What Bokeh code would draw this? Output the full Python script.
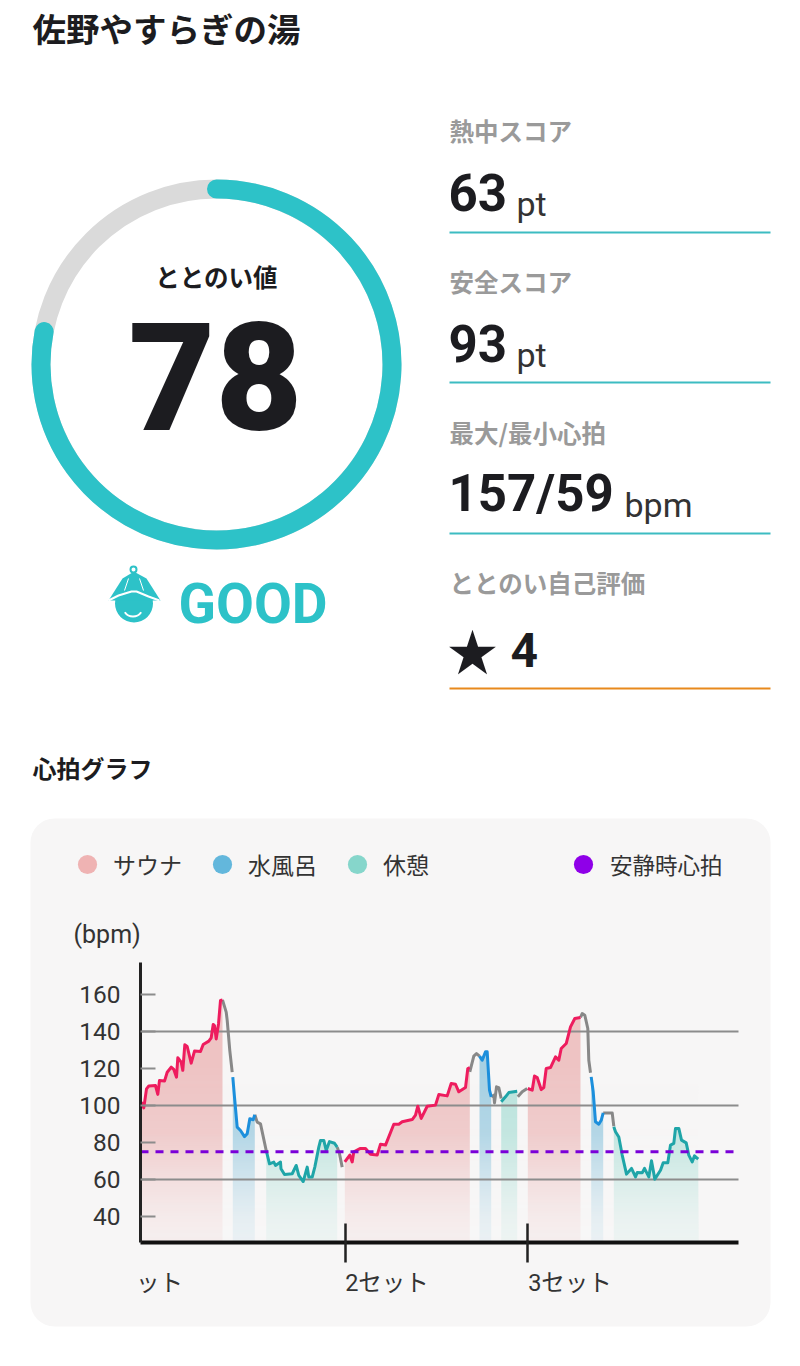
import math
import numpy as np
from bokeh.plotting import figure
from bokeh.layouts import column
from bokeh.models import (BoxAnnotation, Label, Range1d, FixedTicker, Legend, LegendItem)
from bokeh.core.properties import value
from bokeh.embed import file_html
from bokeh.resources import INLINE

# ---------- data ----------
title = "佐野やすらぎの湯"
score_label = "ととのい値"
score = 78
rating = "GOOD"
metric_labels = ["熱中スコア", "安全スコア", "最大/最小心拍", "ととのい自己評価"]
metric_values = ["63", "93", "157/59", "4"]
metric_units = ["pt", "pt", "bpm", ""]
chart_title = "心拍グラフ"
legend_labels = ["サウナ", "水風呂", "休憩"]
rest_label = "安静時心拍"
rest_bpm = 75
y_ticks = [40, 60, 80, 100, 120, 140, 160]
grid_ticks = [60, 100, 140]
set_ticks = [204.5, 387.3]
set_label_pos = [19, 246.5, 429.5]
set_labels = ["ット", "2セット", "3セット"]

sauna = [
    ([1, 3.3, 6, 8.3, 15, 17.3, 19, 24, 26.7, 30.7, 33.3, 36, 37.3, 40.7, 42.3, 44.3, 46.7, 50.7, 54, 60, 62.7, 68.3, 70.7, 72.7, 74, 75.7, 78, 80, 82],
     [101.8, 98.7, 109, 110.5, 110.8, 106, 113.5, 113.2, 118, 120.7, 119.5, 115.3, 125.8, 123.4, 119, 132.8, 131.9, 122.9, 129.4, 129.2, 133, 134.8, 136.6, 143.8, 143.2, 136, 144.1, 156.8, 157.1]),
    ([204.3, 209.3, 211.7, 213.3, 220, 225, 230, 236.7, 240, 245, 253.3, 258.3, 261.7, 271.7, 275, 277.3, 280.7, 286.7, 295, 298.3, 306.7, 310.7, 315, 318.3, 325, 327.3, 329.3],
     [69.5, 73.2, 69.5, 75, 76.8, 76.8, 73.7, 73.2, 79.1, 78.6, 89.9, 89.9, 91.2, 92.4, 94.8, 99.6, 93, 99.6, 100.2, 105.9, 105.2, 111.9, 111.5, 107.4, 109.7, 120, 120.5]),
    ([387.3, 391.7, 394, 396.7, 400.7, 403.3, 405.7, 410, 415, 418.3, 420.7, 425.7, 430, 434.3, 440],
     [109.2, 108.3, 115.9, 115.1, 108.6, 109.7, 120, 120.5, 126.3, 124.5, 130.8, 133.5, 142.5, 147, 147.6]),
]
cold = [
    ([92.3, 94, 96.7, 100, 104, 106.7, 109.3, 112.7, 114.3],
     [115.3, 104.5, 88.3, 86.5, 83.2, 84.7, 92.8, 92.3, 95]),
    ([339, 341.7, 345, 346.7, 349, 350.7],
     [126.7, 124.5, 129, 129, 108.3, 104.7]),
    ([450.7, 452.7, 455, 458.3, 460.7, 462.7],
     [115.5, 107.4, 91.2, 89.9, 92, 96]),
]
rest = [
    ([125.7, 129, 133.3, 135, 140, 140.5, 144, 151.7, 155.7, 158.3, 162.7, 166.7, 168.3, 171.7, 174.3, 178.3, 180, 183.3, 185.7, 189, 194, 196.7],
     [75.7, 68.5, 69.4, 67.6, 69.4, 65.8, 62.7, 63.1, 67.6, 62.2, 58.9, 66.7, 61.3, 61.3, 66.7, 77.5, 81.1, 81.1, 75.7, 80.5, 79.6, 77.5]),
    ([360.7, 365, 368.3, 376.7],
     [102, 104.7, 107, 107.7]),
    ([473.3, 475, 478.3, 481.7, 486, 491, 495, 496.7, 501.7, 504, 508.3, 511, 514.3, 520, 522.7, 527.3, 530, 533.3, 535, 538.3, 541, 545.7, 548.3, 551.7, 554, 557.7],
     [88.5, 85.8, 83, 73.2, 62.9, 66, 61.4, 63.8, 63.6, 66, 61.4, 70.1, 60.2, 65, 69, 69, 78.6, 79.5, 87.6, 87.6, 81.3, 79.8, 73.2, 69.5, 72.8, 71]),
]
other = [
    ([82, 85.7, 86.7, 89.3, 91.7], [157.1, 150.5, 146, 129.7, 118]),
    ([114.3, 116.7, 120, 125.7], [95, 91, 90.1, 75.7]),
    ([196.7, 199, 201.7], [77.5, 73.9, 66.7]),
    ([329.3, 333.3, 336, 339], [118.2, 126.7, 128.1, 126.7]),
    ([350.7, 353.3, 354, 356, 358.3, 360.7], [104.7, 105.6, 101.4, 110.1, 109.7, 103.8]),
    ([377.3, 381.7, 386.7], [104.7, 107.4, 109.2]),
    ([440, 441.7, 444.3, 447.3, 448.3, 450], [147.6, 149.7, 148.8, 141.6, 124.5, 117.7]),
    ([462.7, 471.7, 473.3], [96, 96, 88.8]),
]

# ---------- styles ----------
FONT = "Roboto, 'Noto Sans CJK JP'"
JP = "Noto Sans CJK JP"
INK = "#1c1c20"
TEAL = "#2dc2c8"
GREY_TXT = "#9a9a9a"
CARD = "#f7f6f6"

# ---------- upper part (page pixels) ----------
top = figure(width=792, height=788, x_range=Range1d(0, 792), y_range=Range1d(-788, 0),
             output_backend="svg", toolbar_location=None, min_border=0,
             x_axis_type=None, y_axis_type=None, outline_line_color=None)
top.grid.visible = False


def txt(x, y, s, size, color=INK, bold=False, align="left", font=FONT):
    # the svg text sits about 0.385 em under the requested baseline
    top.text([x], [-(y - 0.385 * size)], text=[s], text_font=value(font), text_font_size=f"{size}px",
             text_color=color, text_font_style="bold" if bold else "normal",
             text_align=align, text_baseline="alphabetic")


txt(32, 40, title, 33.5, bold=True, font=JP)

cx, cy, cr = 216, -364, 175.5
top.arc([cx], [cy], radius=cr, start_angle=0, end_angle=2 * math.pi, line_color="#dadada", line_width=19)
top.arc([cx], [cy], radius=cr, start_angle=math.pi / 2,
        end_angle=math.pi / 2 - 2 * math.pi * score / 100, direction="clock",
        line_color=TEAL, line_width=19, line_cap="round")
txt(216, 285, score_label, 24.5, bold=True, align="center", font=JP)
txt(215, 433, str(score), 150, bold=True, align="center", font="Roboto Black, Roboto")

# helmet icon
top.circle([133.5], [-603], radius=19, fill_color=TEAL, line_color=None)
top.patch([108, 122, 132, 135, 146, 160], [-600, -578, -572, -572, -578, -600], fill_color=TEAL, line_color=None)
top.circle([133], [-569], radius=3, fill_color="white", line_color=TEAL, line_width=2)
top.line([108, 118, 131, 136, 148, 159], [-600, -595, -591, -591, -596, -600], line_color="white", line_width=2)
top.arc([132.5], [-606], radius=10, start_angle=math.radians(215), end_angle=math.radians(325),
        line_color="white", line_width=2)
top.line([128, 124], [-578, -590], line_color="white", line_width=1)
top.line([139, 143], [-578, -590], line_color="white", line_width=1)
txt(178, 625, rating, 55, color=TEAL, bold=True)

label_y = [139, 290, 441, 591]
value_y = [212, 363, 513, 669]
rule_y = [232, 382, 533, 688]
rule_c = ["#3cbcc2", "#3cbcc2", "#3cbcc2", "#e8891c"]
unit_x = [516, 516, 624]
for i, lab in enumerate(metric_labels):
    txt(449, label_y[i], lab, 24.5, color=GREY_TXT, bold=True, font=JP)
    if i < 3:
        txt(448, value_y[i], metric_values[i], 51, bold=True)
        txt(unit_x[i], value_y[i] + 5, metric_units[i], 34, color="#333333")
    top.line([449, 770], [-rule_y[i], -rule_y[i]], line_color=rule_c[i], line_width=2)
txt(447, 668, "★", 50, font=JP)
txt(510, 668, metric_values[3], 48, bold=True)
txt(32, 776, chart_title, 24, bold=True, font=JP)


# ---------- heart-rate chart ----------
def ty(py):  # vertical page position to bpm
    return 60 + (1179 - py) / 1.85


X0, X1 = 0, 598
Y0, Y1 = ty(1242), ty(962)
p = figure(width=792, height=570, x_range=Range1d(-140, 652), y_range=Range1d(ty(1358), ty(788)),
           output_backend="svg", toolbar_location=None, min_border=0,
           outline_line_color=None, background_fill_color="white", border_fill_color="white")

p.add_layout(BoxAnnotation(left=30 - 140, right=770 - 140, top=ty(818), bottom=ty(1326),
                           fill_color=CARD, fill_alpha=1, line_color=None, border_radius=24,
                           level="image"))

for group, col in ((sauna, "#eec3c3"), (cold, "#a5d0e3"), (rest, "#b8e3dc")):
    for xs, ys in group:
        p.varea(x=xs, y1=[Y0] * len(xs), y2=ys, fill_color=col, level="underlay")

# fade of the coloured areas towards the axis
n = 256
alpha = np.interp(np.linspace(Y0, 125, n), [Y0, 40, 60, 85, 125], [0.85, 0.78, 0.55, 0.18, 0.0])
rgba = np.zeros((n, 1), dtype=np.uint32)
view = rgba.view(np.uint8).reshape((n, 1, 4))
view[:, :, 0], view[:, :, 1], view[:, :, 2] = 0xf7, 0xf6, 0xf6
view[:, :, 3] = (alpha * 255).astype(np.uint8).reshape(n, 1)
p.image_rgba(image=[rgba], x=X0, y=Y0, dw=558, dh=125 - Y0, level="underlay")

p.xgrid.visible = False
p.ygrid.ticker = FixedTicker(ticks=grid_ticks)
p.ygrid.cross_bounds = (X0, X1)
p.ygrid.grid_line_color = "#8c8c8c"
p.ygrid.grid_line_width = 2
p.ygrid.level = "glyph"

for group, col in ((other, "#888888"), (sauna, "#ee1c5e"), (cold, "#1c8fdc"), (rest, "#1fa5a8")):
    for xs, ys in group:
        p.line(xs, ys, line_color=col, line_width=3, line_join="round", level="guide")

p.line([X0, X1], [rest_bpm, rest_bpm], line_color="#7a00d8", line_width=3, line_dash="8 7", level="guide")

ya = p.yaxis[0]
ya.fixed_location = 0
ya.bounds = (Y0, Y1)
ya.ticker = FixedTicker(ticks=y_ticks)
ya.axis_line_color = "#222222"
ya.axis_line_width = 3
ya.major_tick_in = 15
ya.major_tick_out = 0
ya.major_tick_line_color = "#8c8c8c"
ya.major_tick_line_width = 2
ya.minor_tick_line_color = None
ya.major_label_standoff = 20
ya.major_label_text_font = FONT
ya.major_label_text_font_size = "24.5px"
ya.major_label_text_color = "#333333"

xa = p.xaxis[0]
xa.fixed_location = Y0
xa.bounds = (X0, X1)
xa.ticker = FixedTicker(ticks=set_label_pos, minor_ticks=set_ticks)
xa.major_label_overrides = dict(zip(set_label_pos, set_labels))
xa.axis_line_color = "#111111"
xa.axis_line_width = 4
xa.major_tick_line_color = None
xa.major_tick_in = 0
xa.major_tick_out = 0
xa.minor_tick_in = 19
xa.minor_tick_out = 20
xa.minor_tick_line_color = "#222222"
xa.minor_tick_line_width = 2.5
xa.major_label_standoff = 6
xa.major_label_text_font = FONT
xa.major_label_text_font_size = "23.5px"
xa.major_label_text_color = "#333333"

p.add_layout(Label(x=73 - 140, y=ty(934), text="(bpm)", text_font=FONT, text_font_size="25px",
                   text_color="#333333", text_baseline="alphabetic"))


# legends
def legend_glyph(color):
    return p.scatter([float("nan")], [float("nan")], size=19, fill_color=color, line_color=None)


leg1 = Legend(items=[LegendItem(label=t, renderers=[legend_glyph(c)])
                     for t, c in zip(legend_labels, ["#efb3b3", "#63b7dc", "#86d6cb"])],
              orientation="horizontal", location=(63, 1358 - 888),
              glyph_width=48, glyph_height=48, label_standoff=2, spacing=16, padding=0, margin=0,
              background_fill_alpha=0, border_line_color=None,
              label_text_font=FONT, label_text_font_size="23px", label_text_color="#333333")
leg2 = Legend(items=[LegendItem(label=rest_label, renderers=[legend_glyph("#8f00e8")])],
              orientation="horizontal", location=(559, 1358 - 888),
              glyph_width=48, glyph_height=48, label_standoff=3, padding=0, margin=0,
              background_fill_alpha=0, border_line_color=None,
              label_text_font=FONT, label_text_font_size="22.5px", label_text_color="#333333")
p.add_layout(leg1)
p.add_layout(leg2)

page = column(top, p, spacing=0)
open("out.html", "w").write(file_html(page, INLINE))
